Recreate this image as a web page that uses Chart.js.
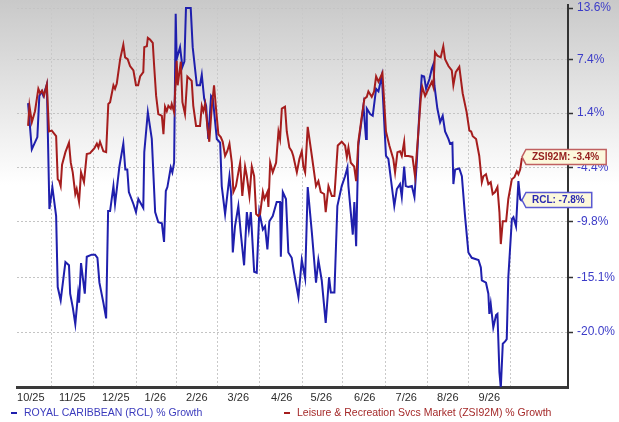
<!DOCTYPE html>
<html>
<head>
<meta charset="utf-8">
<script src="https://cdn.jsdelivr.net/npm/chart.js@4/dist/chart.umd.min.js"></script>
<style>
html,body{margin:0;padding:0;background:#fff;}
canvas{display:block;}
</style>
</head>
<body>
<canvas id="c" width="619" height="422"></canvas>
<script>
// ---- data ----
// x = trading-session index from the start of the window, y = % growth
const rclSessions = [0,1.9,4.7,5.7,6.9,7.7,9.5,10.8,12.3,14.2,15.0,16.5,18.9,20.7,21.3,22.6,23.9,25.3,25.8,26.8,28.7,29.7,32.2,33.9,35.1,36.1,38.1,39.5,40.5,41.5,43.2,44.0,44.9,46.2,48.2,49.2,50.2,51.0,53.3,54.6,55.8,58.3,58.8,60.6,62.6,64.3,65.9,67.7,68.8,69.7,70.5,72.2,73.0,73.9,74.7,75.2,76.9,78.1,79.1,79.9,82.3,83.3,85.4,87.0,87.9,89.1,90.1,91.2,92.6,93.5,95.5,97.2,98.0,99.7,101.9,102.7,103.6,104.7,106.4,107.6,109.3,110.7,111.7,112.7,114.4,115.7,117.0,118.8,119.9,121.1,122.1,123.8,125.8,127.5,127.9,128.9,130.5,131.7,133.4,134.6,136.8,138.5,140.2,141.5,143.6,145.7,146.9,148.6,150.6,152.3,153.2,155.0,156.5,158.7,160.4,161.6,162.1,164.3,165.1,166.0,167.1,169.7,171.0,171.4,173.1,174.4,176.1,177.3,179.0,181.1,182.3,185.3,186.6,188.2,189.1,190.3,191.1,192.4,194.2,195.5,196.7,198.0,199.2,200.4,201.4,203.1,204.3,205.1,205.6,207.1,208.5,209.8,211.0,212.7,213.5,214.7,215.2,216.1,218.2,219.5,221.1,222.8,224.5,227.9,229.1,229.6,231.7,232.9,233.4,234.1,235.4,236.8,237.5,238.5,239.2,240.2,241.4,242.2,243.0,244.8,245.6,246.9,248.1,249.0,249.9];
const rclGrowth = [2.5,-2.5,-1.2,3.3,3.8,3.3,4.6,-8.6,-6.4,-9.3,-16.0,-17.2,-13.7,-14.0,-16.6,-17.8,-19.3,-16.6,-17.4,-13.8,-16.6,-13.2,-13.0,-13.0,-13.3,-15.6,-17.4,-18.8,-8.8,-8.8,-6.3,-8.1,-6.6,-4.3,-1.9,-4.6,-4.6,-6.9,-8.1,-8.9,-7.6,-8.5,-2.8,1.5,-1.4,-8.9,-9.9,-10.0,-11.8,-6.8,-6.4,-4.4,-4.9,-3.9,12.9,7.5,8.9,6.6,7.2,13.6,13.6,8.9,4.5,4.5,5.7,3.0,2.2,-1.4,3.3,3.0,-1.4,-1.8,-6.3,-9.1,-5.3,-6.9,-12.8,-10.3,-8.3,-10.9,-14.0,-8.9,-10.6,-8.9,-14.6,-14.7,-8.9,-10.6,-10.3,-12.5,-9.8,-9.3,-7.9,-7.9,-13.2,-6.9,-7.6,-12.8,-13.3,-14.7,-16.9,-13.5,-15.2,-6.4,-10.9,-15.6,-13.5,-15.4,-19.2,-15.1,-16.5,-16.5,-8.3,-6.3,-5.3,-4.4,-6.3,-11.1,-7.9,-12.2,-2.1,2.2,-1.4,1.9,1.3,1.1,4.1,3.8,5.6,-3.2,-3.5,-8.3,-6.6,-6.1,-7.4,-4.3,-6.3,-6.4,-6.3,-7.4,-3.8,1.5,5.6,5.5,4.1,5.2,6.4,6.9,4.5,1.9,0.4,1.1,-0.6,-1.4,-1.9,-1.8,-6.1,-4.6,-4.5,-5.3,-9.3,-12.8,-13.3,-13.5,-14.2,-15.4,-15.6,-16.6,-18.4,-17.5,-19.6,-18.5,-18.4,-23.4,-24.7,-21.0,-20.8,-20.6,-15.1,-9.6,-9.4,-10.3,-5.8,-7.6,-7.8];

const zsiSessions = [0,0.7,1.9,3.5,5.2,6.1,7.1,8.1,9.5,10.6,12.0,14.2,15.0,15.8,16.5,17.2,18.9,20.7,21.6,22.6,23.9,24.6,25.8,26.8,28.3,29.7,31.4,32.2,33.5,34.8,35.6,36.4,38.1,39.5,40.6,41.5,43.2,44.0,44.9,46.6,48.2,49.1,50.4,51.6,53.3,54.6,55.7,56.7,58.3,58.8,60.1,60.6,61.7,63.1,63.8,64.8,65.9,67.7,68.5,69.3,70.2,71.0,72.2,72.7,73.9,75.2,75.7,77.3,78.1,79.4,80.6,82.8,83.6,85.0,87.0,87.9,88.7,89.6,90.7,91.7,92.9,94.1,95.1,96.3,97.5,98.5,99.7,100.8,101.9,103.1,103.9,105.2,106.4,107.3,108.4,109.8,110.7,112.0,113.2,114.4,115.4,116.5,117.4,118.8,119.6,121.1,121.6,122.5,123.8,125.5,126.7,127.5,128.4,130.0,130.9,132.2,133.4,134.2,136.0,137.3,138.5,139.3,140.2,141.5,143.6,145.7,146.9,148.1,149.8,150.6,152.0,153.7,155.0,156.7,158.7,160.4,161.3,162.1,163.3,165.0,166.0,167.1,168.9,170.2,171.4,172.2,173.9,175.1,176.1,177.3,179.3,181.1,182.8,184.8,185.7,186.9,188.2,189.1,190.3,190.8,192.4,194.5,195.8,197.5,198.7,199.5,200.9,202.6,204.3,205.1,205.9,207.1,208.8,210.1,211.0,212.7,214.4,215.2,216.4,218.2,219.9,221.9,223.3,224.2,225.0,226.7,228.3,229.6,230.4,231.7,232.9,234.1,235.1,236.3,237.5,238.5,239.2,240.2,241.9,243.0,244.8,246.1,247.3,248.1,249.0,249.9];
const zsiGrowth = [0.0,2.2,0.4,1.6,4.1,3.6,3.9,3.3,4.6,-0.6,-0.5,-1.1,-5.6,-5.8,-6.3,-4.1,-2.8,-1.8,-3.9,-4.9,-7.1,-6.6,-7.9,-4.9,-5.9,-3.0,-2.9,-2.7,-2.4,-1.9,-2.3,-1.7,-2.7,-2.8,2.4,2.6,4.5,4.1,4.7,7.5,9.2,7.7,7.5,6.7,6.2,4.5,4.5,5.5,6.0,8.9,9.0,10.0,9.8,9.4,6.7,3.3,1.3,1.1,-0.9,2.1,1.6,2.2,1.9,2.4,1.5,7.3,4.5,7.2,2.6,1.3,5.5,5.0,2.2,0.0,0.0,2.2,1.6,2.4,0.0,-1.7,1.9,4.5,1.9,-0.9,-1.2,-1.7,-3.2,-2.7,-1.9,-3.9,-6.9,-6.3,-4.9,-3.9,-7.3,-4.3,-5.3,-7.3,-4.3,-5.3,-9.1,-9.3,-9.1,-6.9,-7.6,-6.9,-8.4,-3.9,-4.9,-3.9,-0.6,-1.4,1.9,2.1,-0.6,-2.3,-2.7,-3.2,-4.9,-3.5,-2.7,-4.3,-4.9,-0.1,-3.2,-6.3,-5.8,-6.9,-7.1,-8.9,-6.3,-7.3,-7.3,-2.1,-1.7,-2.1,-3.3,-2.3,-3.9,-4.3,-5.8,-1.7,1.1,3.0,3.2,3.8,3.2,3.8,5.5,4.9,5.9,-0.6,-2.1,-3.5,-4.9,-2.8,-2.7,-3.2,-1.7,-3.2,-3.2,-3.3,-5.3,-0.6,3.0,4.3,3.3,4.1,4.9,4.3,8.3,7.9,7.7,9.0,7.5,6.7,6.2,4.5,6.0,6.6,3.6,1.5,-0.5,-0.6,-1.1,-1.4,-3.2,-5.9,-5.3,-5.1,-6.1,-5.9,-7.1,-6.9,-6.4,-8.9,-12.0,-9.8,-9.8,-7.6,-5.6,-5.4,-4.8,-5.1,-4.6,-3.4];

const seriesLabels = ['ROYAL CARIBBEAN (RCL) % Growth', 'Leisure & Recreation Svcs Market (ZSI92M) % Growth'];
const seriesTags = ['RCL', 'ZSI92M'];

// month boundaries (session index) and the month each one closes
const monthBoundaries = [12, 33, 55, 75, 96, 117, 139, 159, 181, 202, 223, 244];
const monthLabels = ['10/25','11/25','12/25','1/26','2/26','3/26','4/26','5/26','6/26','7/26','8/26','9/26'];

// right-axis tick values (% growth)
const yTickValues = [13.6, 7.4, 1.4, -4.4, -9.8, -15.1, -20.0];

// visible window
const xMin = -5.6, xMax = 273.2;
const yMinGrowth = -24.61, yMaxGrowth = 13.98;

// ---- styles ----
const FONT = '"Liberation Sans", Arial, Helvetica, sans-serif';
Chart.defaults.font.family = FONT;
const colors = {
  rcl: '#1f1fad', zsi: '#a51d1d',
  rclText: '#3b3bbd', zsiText: '#a52a2a',
  rclTagText: '#2a2ab0', zsiTagText: '#962020',
  rclTagBorder: '#5a5ad2', zsiTagBorder: '#c06060',
  tagFill: '#fcf8dc'
};

const toIndex = g => 100 + g;   // growth -> index level (log-scaled axis)

const bgPlugin = {
  id: 'bg',
  beforeDraw(chart) {
    const {ctx, width, height} = chart;
    const g = ctx.createLinearGradient(0, 0, 0, 185);
    g.addColorStop(0, '#c9c9c9');
    g.addColorStop(1, '#ffffff');
    ctx.save();
    ctx.fillStyle = '#ffffff';
    ctx.fillRect(0, 0, width, height);
    ctx.fillStyle = g;
    ctx.fillRect(0, 0, width, 185);
    ctx.restore();
  }
};

const tagPlugin = {
  id: 'endTags',
  afterDraw(chart) {
    const ctx = chart.ctx;
    chart.data.datasets.forEach((ds, i) => {
      const meta = chart.getDatasetMeta(i);
      const pt = meta.data[meta.data.length - 1];
      const last = ds.growth[ds.growth.length - 1];
      const text = ds.tag + ': ' + last.toFixed(1) + '%';
      ctx.save();
      ctx.font = 'bold 10px ' + FONT;
      const w = ctx.measureText(text).width + 13;
      const h = 15;
      const tipX = pt.x, tipY = pt.y - 1;
      const bx = tipX + 4;
      ctx.beginPath();
      ctx.moveTo(tipX, tipY);
      ctx.lineTo(bx, tipY - h / 2);
      ctx.lineTo(bx + w, tipY - h / 2);
      ctx.lineTo(bx + w, tipY + h / 2);
      ctx.lineTo(bx, tipY + h / 2);
      ctx.closePath();
      ctx.fillStyle = colors.tagFill;
      ctx.fill();
      ctx.lineWidth = 1.5;
      ctx.strokeStyle = ds.tagBorder;
      ctx.stroke();
      ctx.fillStyle = ds.tagText;
      ctx.textBaseline = 'middle';
      ctx.textAlign = 'left';
      ctx.fillText(text, bx + 6, tipY + 0.5);
      ctx.restore();
    });
  }
};

const legendPlugin = {
  id: 'bottomLegend',
  afterDraw(chart) {
    const ctx = chart.ctx;
    const starts = [11, 284];
    const y = 413;
    ctx.save();
    ctx.font = '10.5px ' + FONT;
    ctx.textBaseline = 'middle';
    ctx.textAlign = 'left';
    chart.data.datasets.forEach((ds, i) => {
      const x = starts[i];
      ctx.fillStyle = ds.borderColor;
      ctx.fillRect(x, y - 1, 6, 2);
      ctx.fillStyle = ds.textColor;
      ctx.fillText(ds.label, x + 13, y);
    });
    ctx.restore();
  }
};

new Chart(document.getElementById('c'), {
  type: 'line',
  data: {
    datasets: [
      {
        label: seriesLabels[0], tag: seriesTags[0], growth: rclGrowth,
        data: rclSessions.map((s, i) => ({x: s, y: toIndex(rclGrowth[i])})),
        borderColor: colors.rcl, textColor: colors.rclText, tagText: colors.rclTagText, tagBorder: colors.rclTagBorder,
        borderWidth: 2, pointRadius: 0, tension: 0, order: 1
      },
      {
        label: seriesLabels[1], tag: seriesTags[1], growth: zsiGrowth,
        data: zsiSessions.map((s, i) => ({x: s, y: toIndex(zsiGrowth[i])})),
        borderColor: colors.zsi, textColor: colors.zsiText, tagText: colors.zsiTagText, tagBorder: colors.zsiTagBorder,
        borderWidth: 2, pointRadius: 0, tension: 0, order: 0
      }
    ]
  },
  options: {
    responsive: false,
    devicePixelRatio: 1,
    animation: false,
    layout: { padding: { left: 17, top: 0, right: 0, bottom: 0 } },
    plugins: { legend: { display: false }, tooltip: { enabled: false } },
    scales: {
      x: {
        type: 'linear',
        min: xMin, max: xMax,
        afterBuildTicks: s => { s.ticks = monthBoundaries.map(v => ({value: v})); },
        afterFit: s => { s.height = 35; s.paddingLeft = 0; s.paddingRight = 0; },
        ticks: {
          autoSkip: false, maxRotation: 0, minRotation: 0,
          callback: (v, i) => monthLabels[i],
          labelOffset: -21, padding: 4,
          color: '#2b2b2b', font: { size: 11 }
        },
        grid: { color: '#c9c9c9', lineWidth: 1, drawTicks: false },
        border: { display: true, color: '#3a3a3a', width: 3, dash: [2, 2] }
      },
      y: {
        type: 'logarithmic',
        position: 'right',
        min: toIndex(yMinGrowth), max: toIndex(yMaxGrowth),
        afterBuildTicks: s => { s.ticks = yTickValues.map(v => ({value: toIndex(v)})); },
        afterFit: s => { s.width = 51; s.paddingTop = 5; s.paddingBottom = 0; },
        ticks: {
          autoSkip: false,
          callback: (v, i) => yTickValues[i].toFixed(1) + '%',
          color: '#3c3cc8', font: { size: 12 }, padding: 4
        },
        grid: { color: '#c4c4c4', lineWidth: 1, tickLength: 5, tickColor: '#333333', tickWidth: 1.5, tickBorderDash: [] },
        border: { display: true, color: '#333333', width: 2, dash: [2, 2] }
      }
    }
  },
  plugins: [bgPlugin, tagPlugin, legendPlugin]
});
</script>
</body>
</html>
